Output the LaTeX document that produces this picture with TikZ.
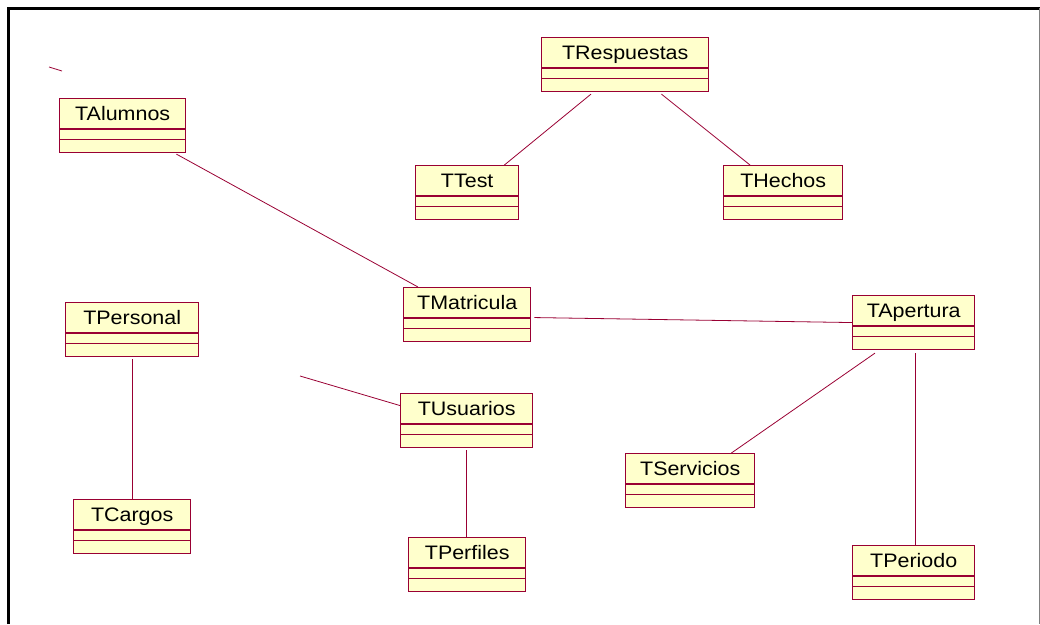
\documentclass[tikz,border=0pt]{standalone}
\usepackage{fontspec}
\setmainfont{Liberation Sans}[FakeStretch=1.1]
\usetikzlibrary{shapes.multipart}
\definecolor{granate}{HTML}{990033}
\definecolor{crema}{HTML}{FFFFCC}
\newcommand{\tabla}[1]{\rule[-8pt]{0pt}{29pt}#1\nodepart{second}\rule{0pt}{9pt}\nodepart{third}\rule{0pt}{11.5pt}}

\begin{document}
\begin{tikzpicture}[x=1pt, y=-1pt,
  tabla/.style={rectangle split, rectangle split parts=3, draw=granate, fill=crema, line width=1.4pt, inner sep=0pt, anchor=north west, font=\fontsize{19.5}{20}\selectfont},
  enlace/.style={draw=granate, line width=0.8pt}]
\useasboundingbox (0,0) rectangle (1040,624);
\draw[line width=3pt] (8,624) -- (8,8) -- (1040,8);
\draw[gray, line width=1pt] (1039,8) -- (1039,624);

\node [tabla, minimum width=167pt] (TRespuestas) at (541,37) {\tabla{TRespuestas}};
\node [tabla, minimum width=126pt] (TAlumnos) at (59,98) {\tabla{TAlumnos}};
\node [tabla, minimum width=103pt] (TTest) at (415,165) {\tabla{TTest}};
\node [tabla, minimum width=119pt] (THechos) at (723,165) {\tabla{THechos}};
\node [tabla, minimum width=127pt] (TMatricula) at (403,287) {\tabla{TMatricula}};
\node [tabla, minimum width=122pt] (TApertura) at (852,295) {\tabla{TApertura}};
\node [tabla, minimum width=133pt] (TPersonal) at (65,302) {\tabla{TPersonal}};
\node [tabla, minimum width=132pt] (TUsuarios) at (400,393) {\tabla{TUsuarios}};
\node [tabla, minimum width=129pt] (TServicios) at (625,453) {\tabla{TServicios}};
\node [tabla, minimum width=117pt] (TCargos) at (73,499) {\tabla{TCargos}};
\node [tabla, minimum width=117pt] (TPerfiles) at (408,537) {\tabla{TPerfiles}};
\node [tabla, minimum width=122pt] (TPeriodo) at (852,545) {\tabla{TPeriodo}};

\coordinate (stubA) at (49,67);
\coordinate (stubB) at (62,71);
\coordinate (stubU) at (300,376);

\draw[enlace] (stubA) -- (stubB);
\draw[enlace] ([xshift=-10pt, yshift=-1pt]TAlumnos.south east) -- ([xshift=15pt]TMatricula.north west);
\draw[enlace] ([xshift=50pt, yshift=-2pt]TRespuestas.south west) -- ([xshift=-15pt]TTest.north east);
\draw[enlace] ([xshift=-48pt, yshift=-2pt]TRespuestas.south east) -- ([xshift=27pt]THechos.north west);
\draw[enlace] ([xshift=3pt, yshift=-3pt]TMatricula.east) -- (TApertura.west);
\draw[enlace] ([xshift=23pt, yshift=-3pt]TApertura.south west) -- ([xshift=-24pt]TServicios.north east);
\draw[enlace] ([xshift=2pt, yshift=-3pt]TApertura.south) -- ([xshift=2pt]TPeriodo.north);
\draw[enlace] ([yshift=-2pt]TPersonal.south) -- (TPersonal.south |- TCargos.north);
\draw[enlace] ([yshift=-2pt]TUsuarios.south) -- (TUsuarios.south |- TPerfiles.north);
\draw[enlace] (stubU) -- ([yshift=15pt]TUsuarios.west);
\end{tikzpicture}
\end{document}
